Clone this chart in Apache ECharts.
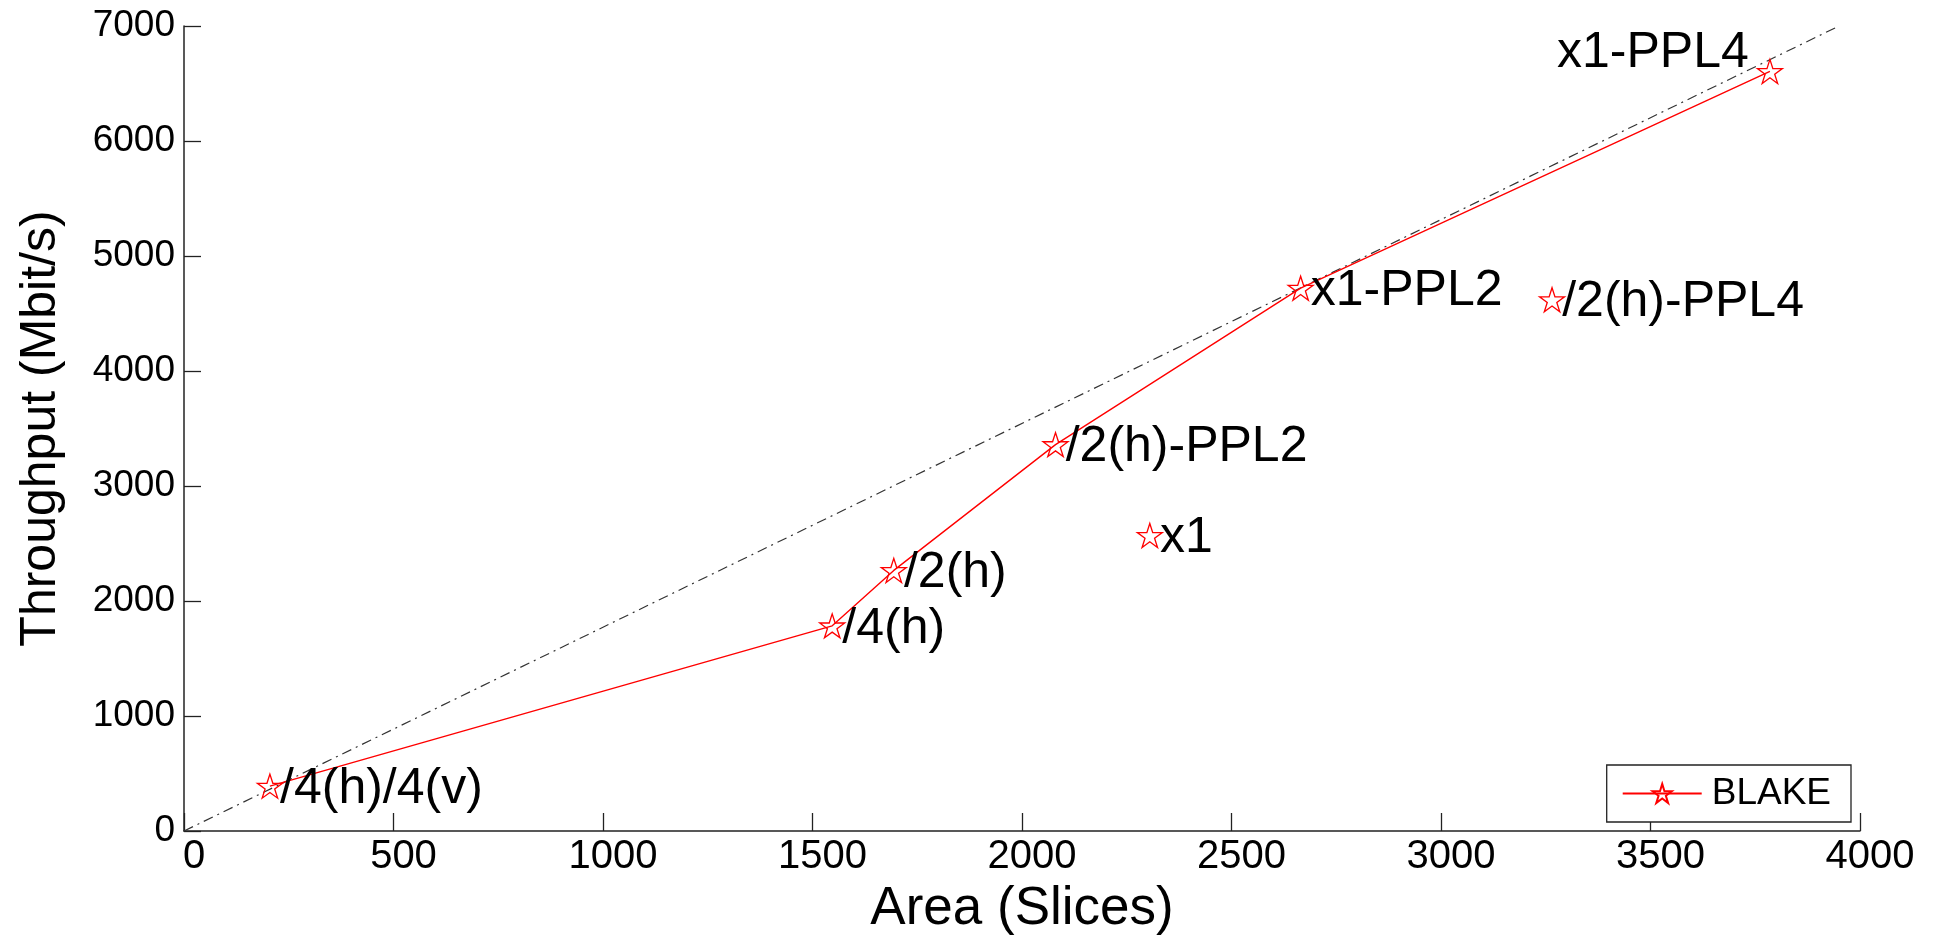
<!DOCTYPE html>
<html>
<head>
<meta charset="utf-8">
<title>BLAKE throughput vs area</title>
<script src="https://cdn.jsdelivr.net/npm/echarts@6/dist/echarts.min.js"></script>
<style>
  html, body { margin: 0; padding: 0; background: #fff; }
  #chart { width: 1934px; height: 941px; }
</style>
</head>
<body>
<div id="chart"></div>
<script>
// points joined by the red line (pareto front)
const frontNames = ['/4(h)/4(v)', '/4(h)', '/2(h)', '/2(h)-PPL2', 'x1-PPL2', 'x1-PPL4']
const frontArea = [205, 1547, 1694, 2080, 2665, 3785]
const frontThroughput = [390, 1784, 2266, 3360, 4720, 6605]

// points drawn as markers only
const otherNames = ['x1', '/2(h)-PPL4']
const otherArea = [2305, 3265]
const otherThroughput = [2570, 4620]

// dash-dot reference line from the origin
const refArea = [0, 3950]
const refThroughput = [0, 7000]

const xRange = [0, 4000, 500]
const yRange = [0, 7000, 1000]

const FONT = '"Liberation Sans", Arial, Helvetica, sans-serif'
const RED = '#ff0000'
// five-pointed star (hollow)
const STAR = 'path://M50 0 L61.2 34.5 L97.6 34.5 L68.2 55.9 L79.4 90.5 L50 69.1 L20.6 90.5 L31.8 55.9 L2.4 34.5 L38.8 34.5 Z'

const labelRight = { position: 'right', distance: -3, offset: [0, 3] }
const labelLeftUp = { position: 'left', distance: 8, offset: [0, -18] }

function buildPoints(names, xs, ys) {
  return names.map((n, i) => ({
    name: n,
    value: [xs[i], ys[i]],
    label: n === 'x1-PPL4' ? labelLeftUp : labelRight
  }))
}

const chart = echarts.init(document.getElementById('chart'))

const pointStyle = {
  type: 'line',
  symbol: STAR,
  symbolSize: [25, 24],
  color: RED,
  itemStyle: { color: 'rgba(255,255,255,0)', borderColor: RED, borderWidth: 1.3 },
  label: {
    show: true,
    formatter: p => p.name,
    color: '#000',
    fontFamily: FONT,
    fontSize: 50
  },
  emphasis: { disabled: true },
  animation: false,
  z: 3
}

chart.setOption({
  backgroundColor: '#fff',
  animation: false,
  textStyle: { fontFamily: FONT },
  grid: { left: 184, right: 74, top: 26, bottom: 108 },
  legend: {
    data: ['BLAKE'],
    right: 83,
    bottom: 119,
    orient: 'vertical',
    backgroundColor: '#fff',
    borderColor: '#222',
    borderWidth: 1.3,
    borderRadius: 0,
    padding: [10, 20, 10, 15],
    itemWidth: 79,
    itemHeight: 24,
    textStyle: { fontFamily: FONT, fontSize: 37, color: '#000', padding: [0, 0, 0, 5] }
  },
  xAxis: {
    type: 'value',
    min: xRange[0], max: xRange[1], interval: xRange[2],
    name: 'Area (Slices)',
    nameLocation: 'middle',
    nameGap: 52,
    nameTextStyle: { fontFamily: FONT, fontSize: 53, color: '#000' },
    axisLine: { show: true, onZero: false, lineStyle: { color: '#222', width: 1.5 } },
    axisTick: { show: true, inside: true, length: 18, lineStyle: { color: '#222', width: 1.3 } },
    axisLabel: {
      fontFamily: FONT, fontSize: 40, color: '#000', margin: 6, padding: [0, 0, 0, 20],
      formatter: v => String(v)
    },
    splitLine: { show: false }
  },
  yAxis: {
    type: 'value',
    min: yRange[0], max: yRange[1], interval: yRange[2],
    name: 'Throughput (Mbit/s)',
    nameLocation: 'middle',
    nameGap: 118,
    nameTextStyle: { fontFamily: FONT, fontSize: 50, color: '#000' },
    axisLine: { show: true, onZero: false, lineStyle: { color: '#222', width: 1.5 } },
    axisTick: { show: true, inside: true, length: 17, lineStyle: { color: '#222', width: 1.3 } },
    axisLabel: {
      fontFamily: FONT, fontSize: 37, color: '#000', margin: 9,
      formatter: v => String(v)
    },
    splitLine: { show: false }
  },
  series: [
    {
      name: 'reference',
      type: 'line',
      data: refArea.map((x, i) => [x, refThroughput[i]]),
      showSymbol: false,
      symbol: 'none',
      lineStyle: { color: '#333', width: 1.2, type: [10, 5, 2, 5] },
      emphasis: { disabled: true },
      silent: true,
      z: 2
    },
    Object.assign({}, pointStyle, {
      name: 'BLAKE',
      data: buildPoints(frontNames, frontArea, frontThroughput),
      lineStyle: { color: RED, width: 1.4 }
    }),
    Object.assign({}, pointStyle, {
      name: 'BLAKE (other)',
      data: buildPoints(otherNames, otherArea, otherThroughput),
      lineStyle: { width: 0, opacity: 0 }
    })
  ]
})
</script>
</body>
</html>
